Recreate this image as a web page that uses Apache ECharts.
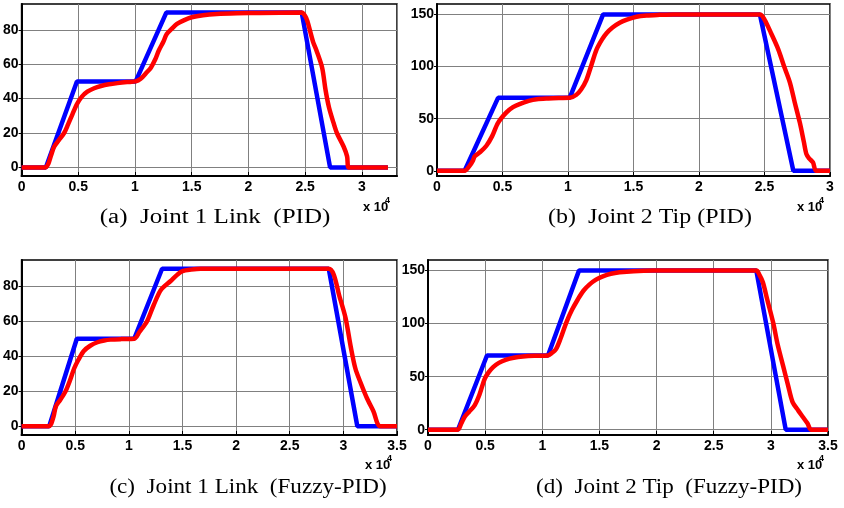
<!DOCTYPE html>
<html>
<head>
<meta charset="utf-8">
<script src="https://cdn.jsdelivr.net/npm/echarts@6/dist/echarts.min.js"></script>
<style>
html,body{margin:0;padding:0;background:#fff;}
#chart{width:844px;height:508px;}
</style>
</head>
<body>
<div id="chart"></div>
<script>
// ---- Data (time in units of 1e4 samples) ----
// (a) Joint 1 Link (PID)
const refA_t = [0, 0.214, 0.488, 1.006, 1.276, 2.47, 2.72, 3.23];
const refA_y = [0, 0, 50, 50, 90, 90, 0, 0];
const pidA_t = [0, 0.21, 0.235, 0.26, 0.287, 0.33, 0.375, 0.41, 0.449, 0.49, 0.53, 0.58, 0.64, 0.70, 0.77, 0.845, 0.93, 1.006, 1.05, 1.10, 1.14, 1.18, 1.21, 1.25, 1.28, 1.33, 1.37, 1.43, 1.5, 1.6, 1.72, 1.9, 2.1, 2.47, 2.50, 2.52, 2.57, 2.60, 2.65, 2.68, 2.71, 2.75, 2.78, 2.84, 2.87, 2.885, 3.23];
const pidA_y = [0, 0, 2, 7, 12, 16, 20, 25, 31, 37, 41, 44, 46, 47.3, 48.3, 49, 49.6, 50, 51.5, 55, 58, 63, 68, 73, 77.5, 81, 83.4, 85.5, 87.3, 88.5, 89.2, 89.6, 89.8, 90, 88, 85, 73, 68, 58, 45, 35, 26, 20, 12, 6.4, 0, 0];

// (b) Joint 2 Tip (PID)
const refB_t = [0, 0.211, 0.466, 1.013, 1.268, 2.465, 2.72, 3.0];
const refB_y = [0, 0, 70, 70, 150, 150, 0, 0];
const pidB_t = [0, 0.21, 0.25, 0.275, 0.288, 0.33, 0.377, 0.42, 0.466, 0.53, 0.58, 0.63, 0.70, 0.76, 0.85, 0.93, 1.013, 1.064, 1.10, 1.14, 1.18, 1.217, 1.26, 1.294, 1.34, 1.395, 1.45, 1.523, 1.6, 1.7, 1.8, 2.0, 2.465, 2.50, 2.55, 2.605, 2.65, 2.694, 2.73, 2.77, 2.80, 2.82, 2.84, 2.87, 2.895, 3.0];
const pidB_y = [0, 0, 5, 10, 14, 18, 24, 33, 46, 56, 61, 64, 67, 68.6, 69.4, 69.8, 70, 73, 78, 87, 102, 116, 126, 132, 137.5, 142, 145, 147.8, 149, 149.6, 150, 150, 150, 145, 132, 116.5, 100, 84.6, 66, 46, 28, 16, 12, 8, 0, 0];

// (c) Joint 1 Link (Fuzzy-PID)
const refC_t = [0, 0.258, 0.515, 1.05, 1.31, 2.864, 3.13, 3.5];
const refC_y = [0, 0, 50, 50, 90, 90, 0, 0];
const fuzC_t = [0, 0.25, 0.273, 0.30, 0.32, 0.36, 0.41, 0.45, 0.49, 0.53, 0.58, 0.64, 0.707, 0.77, 0.83, 0.93, 1.05, 1.10, 1.17, 1.23, 1.30, 1.39, 1.45, 1.50, 1.58, 1.67, 2.864, 2.91, 2.96, 3.02, 3.07, 3.112, 3.16, 3.22, 3.28, 3.345, 3.5];
const fuzC_y = [0, 0, 1, 6, 11.4, 15, 20, 26, 33, 38, 43, 46, 48, 49, 49.5, 49.8, 50, 54, 60, 69, 78, 83, 86.5, 88.6, 89.5, 90, 90, 86.7, 75, 62, 45, 33, 25, 16, 8.6, 0, 0];

// (d) Joint 2 Tip (Fuzzy-PID)
const refD_t = [0, 0.262, 0.516, 1.05, 1.321, 2.873, 3.13, 3.5];
const refD_y = [0, 0, 70, 70, 150, 150, 0, 0];
const fuzD_t = [0, 0.26, 0.29, 0.32, 0.36, 0.408, 0.45, 0.496, 0.53, 0.57, 0.62, 0.685, 0.75, 0.83, 0.93, 1.05, 1.08, 1.12, 1.16, 1.21, 1.26, 1.312, 1.36, 1.414, 1.47, 1.53, 1.6, 1.677, 1.8, 1.97, 2.873, 2.90, 2.93, 2.97, 3.02, 3.06, 3.106, 3.15, 3.19, 3.24, 3.28, 3.32, 3.354, 3.5];
const fuzD_y = [0, 0, 5.6, 12, 17, 23, 33, 48, 54, 59, 63, 66, 67.8, 69, 69.7, 70, 72, 76, 86, 101, 113, 123, 131, 137, 141.5, 144.6, 147, 148.4, 149.5, 150, 150, 146, 139, 122, 101, 80, 60.6, 42, 26, 18, 12, 6, 0, 0];

// tick labels
const yTicks1 = [0, 20, 40, 60, 80];
const yTicks2 = [0, 50, 100, 150];
const captions = ['(a)  Joint 1 Link  (PID)', '(b)  Joint 2 Tip (PID)', '(c)  Joint 1 Link  (Fuzzy-PID)', '(d)  Joint 2 Tip  (Fuzzy-PID)'];

function zip(t, y) { return t.map((v, i) => [v, y[i]]); }

const grids = [
  {left: 21, top: 4, width: 376, height: 172},
  {left: 437, top: 4, width: 393, height: 172},
  {left: 21, top: 260, width: 376, height: 175},
  {left: 428, top: 260, width: 400, height: 175}
];
const xMax = [3.31, 3, 3.5, 3.5];
const yRange = [[-5, 95], [-5, 160], [-5, 95], [-5, 160]];
const yTickSets = [yTicks1, yTicks2, yTicks1, yTicks2];

const labelFont = {color: '#000', fontWeight: 'bold', fontSize: 14, fontFamily: '"Liberation Sans", Arial, sans-serif'};

const option = {
  backgroundColor: '#fff',
  animation: false,
  grid: grids.map(g => Object.assign({show: true, borderColor: '#000', borderWidth: 1.5, backgroundColor: 'transparent'}, g)),
  xAxis: grids.map((g, i) => ({
    type: 'value', gridIndex: i, min: 0, max: xMax[i], interval: 0.5,
    axisLine: {show: true, onZero: false, lineStyle: {color: '#000', width: 2}},
    axisTick: {show: true, inside: true, length: 4, lineStyle: {color: '#000'}},
    splitLine: {show: true, lineStyle: {color: '#808080', width: 1}},
    axisLabel: Object.assign({margin: 4, showMaxLabel: i !== 0, formatter: v => String(+v.toFixed(2))}, labelFont)
  })),
  yAxis: grids.map((g, i) => ({
    type: 'value', gridIndex: i, min: yRange[i][0], max: yRange[i][1],
    axisLine: {show: true, onZero: false, lineStyle: {color: '#000', width: 2}},
    axisTick: {show: true, inside: false, length: 3, customValues: yTickSets[i], lineStyle: {color: '#000'}},
    splitLine: {show: true, lineStyle: {color: '#808080', width: 1}},
    axisLabel: Object.assign({margin: 3, customValues: yTickSets[i]}, labelFont)
  })),
  series: [
    [refA_t, refA_y, pidA_t, pidA_y],
    [refB_t, refB_y, pidB_t, pidB_y],
    [refC_t, refC_y, fuzC_t, fuzC_y],
    [refD_t, refD_y, fuzD_t, fuzD_y]
  ].flatMap((d, i) => [
    {type: 'line', xAxisIndex: i, yAxisIndex: i, data: zip(d[0], d[1]), showSymbol: false, smooth: false,
     lineStyle: {color: '#0000ff', width: 4.5}, itemStyle: {color: '#0000ff'}, z: 2},
    {type: 'line', xAxisIndex: i, yAxisIndex: i, data: zip(d[2], d[3]), showSymbol: false, smooth: 0.3,
     lineStyle: {color: '#ff0000', width: 4.5}, itemStyle: {color: '#ff0000'}, z: 3}
  ]),
  graphic: [
    // x 10^4 labels
    ...[[363, 207], [797, 207], [365, 465], [797, 465]].flatMap(p => [
      {type: 'text', x: p[0], y: p[1], style: {text: 'x 10', fill: '#000', font: 'bold 13px "Liberation Sans", Arial', textAlign: 'left', textVerticalAlign: 'middle'}},
      {type: 'text', x: p[0] + 22, y: p[1] - 6, style: {text: '4', fill: '#000', font: 'bold 9px "Liberation Sans", Arial', textAlign: 'left', textVerticalAlign: 'middle'}}
    ]),
    // captions
    ...[[215, 218, 20, 1.25], [650, 218, 20, 1.2], [248, 487, 22, 1.05], [669, 487, 22, 1.05]].map((p, i) => ({
      type: 'text', x: p[0], y: p[1], scaleX: p[3],
      style: {text: captions[i], fill: '#000', font: p[2] + 'px "Liberation Serif", "Times New Roman", serif', textAlign: 'center', textVerticalAlign: 'middle'}
    }))
  ]
};

const chart = echarts.init(document.getElementById('chart'), null, {renderer: 'canvas'});
chart.setOption(option);
</script>
</body>
</html>
